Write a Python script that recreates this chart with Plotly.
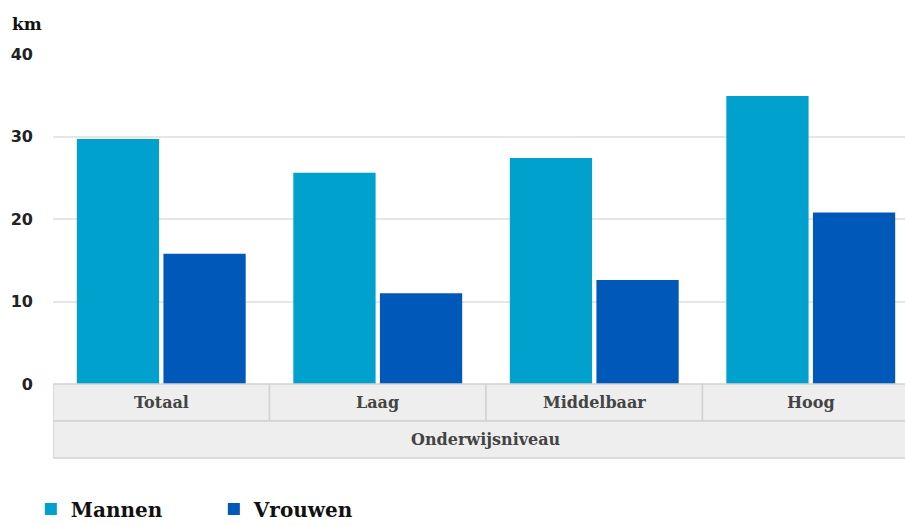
import plotly.graph_objects as go

categories = ["Totaal", "Laag", "Middelbaar", "Hoog"]
group_label = "Onderwijsniveau"
mannen = [29.7, 25.6, 27.4, 34.9]
vrouwen = [15.8, 11.0, 12.6, 20.8]
y_ticks = [0, 10, 20, 30, 40]
unit_label = "km"

W, H = 905, 525
ml, mr, mt, mb = 53, 0, 54, 141
plot_h = H - mt - mb
row_h = 37 / plot_h

x_idx = list(range(len(categories)))

fig = go.Figure()
fig.add_trace(go.Bar(x=x_idx, y=mannen, name="<b>Mannen</b>", marker=dict(color="#00a1cd", line=dict(width=0))))
fig.add_trace(go.Bar(x=x_idx, y=vrouwen, name="<b>Vrouwen</b>", marker=dict(color="#0058b8", line=dict(width=0))))

lab_font = dict(family="DejaVu Serif", size=16, color="#444444")
shapes = []
annotations = []
for i, c in enumerate(categories):
    shapes.append(dict(type="rect", xref="x", yref="paper", x0=i - 0.5, x1=i + 0.5, y0=-row_h, y1=0,
                       fillcolor="#eeeeee", line=dict(color="#d2d2d2", width=1.5), layer="above"))
    annotations.append(dict(xref="x", yref="paper", x=i, y=-row_h / 2, text="<b>" + c + "</b>", showarrow=False,
                            font=lab_font, xanchor="center", yanchor="middle"))
shapes.append(dict(type="rect", xref="x", yref="paper", x0=-0.5, x1=len(categories) - 0.5,
                   y0=-2 * row_h, y1=-row_h, fillcolor="#eeeeee", line=dict(color="#d2d2d2", width=1.5),
                   layer="above"))
annotations.append(dict(xref="x", yref="paper", x=(len(categories) - 1) / 2, y=-1.5 * row_h,
                        text="<b>" + group_label + "</b>", showarrow=False, font=lab_font,
                        xanchor="center", yanchor="middle"))
annotations.append(dict(xref="paper", yref="paper", x=-43 / (W - ml), y=1 + 30 / plot_h,
                        text="<b>" + unit_label + "</b>", showarrow=False,
                        font=dict(family="DejaVu Serif", size=17, color="#111111"),
                        xanchor="left", yanchor="middle"))

span = (W - ml - mr) / 216.5
fig.update_layout(
    width=W, height=H,
    margin=dict(l=ml, r=mr, t=mt, b=mb, autoexpand=False),
    plot_bgcolor="white", paper_bgcolor="white",
    barmode="group", bargap=0.2, bargroupgap=0.05,
    xaxis=dict(range=[-0.5, -0.5 + span], showticklabels=False, showgrid=False, zeroline=False, ticks="",
               automargin=False),
    yaxis=dict(range=[0, 40], tickvals=y_ticks, ticktext=["<b>%d</b>" % v for v in y_ticks],
               showgrid=True, gridcolor="#e6e6e6", gridwidth=1.5,
               zeroline=False, ticks="", ticklabelstandoff=19, automargin=False,
               tickfont=dict(family="DejaVu Sans", size=16, color="#222222")),
    shapes=shapes,
    annotations=annotations,
    showlegend=True,
    legend=dict(orientation="h", x=-0.026, xanchor="left", y=-(509 - 384) / plot_h, yanchor="middle",
                font=dict(family="DejaVu Serif", size=20, color="#111111"),
                entrywidth=138, entrywidthmode="pixels", itemsizing="constant"),
)

fig.write_html("out.html", config={"displayModeBar": False},
               post_script="document.body.style.margin='0px';document.body.style.overflow='hidden';")
